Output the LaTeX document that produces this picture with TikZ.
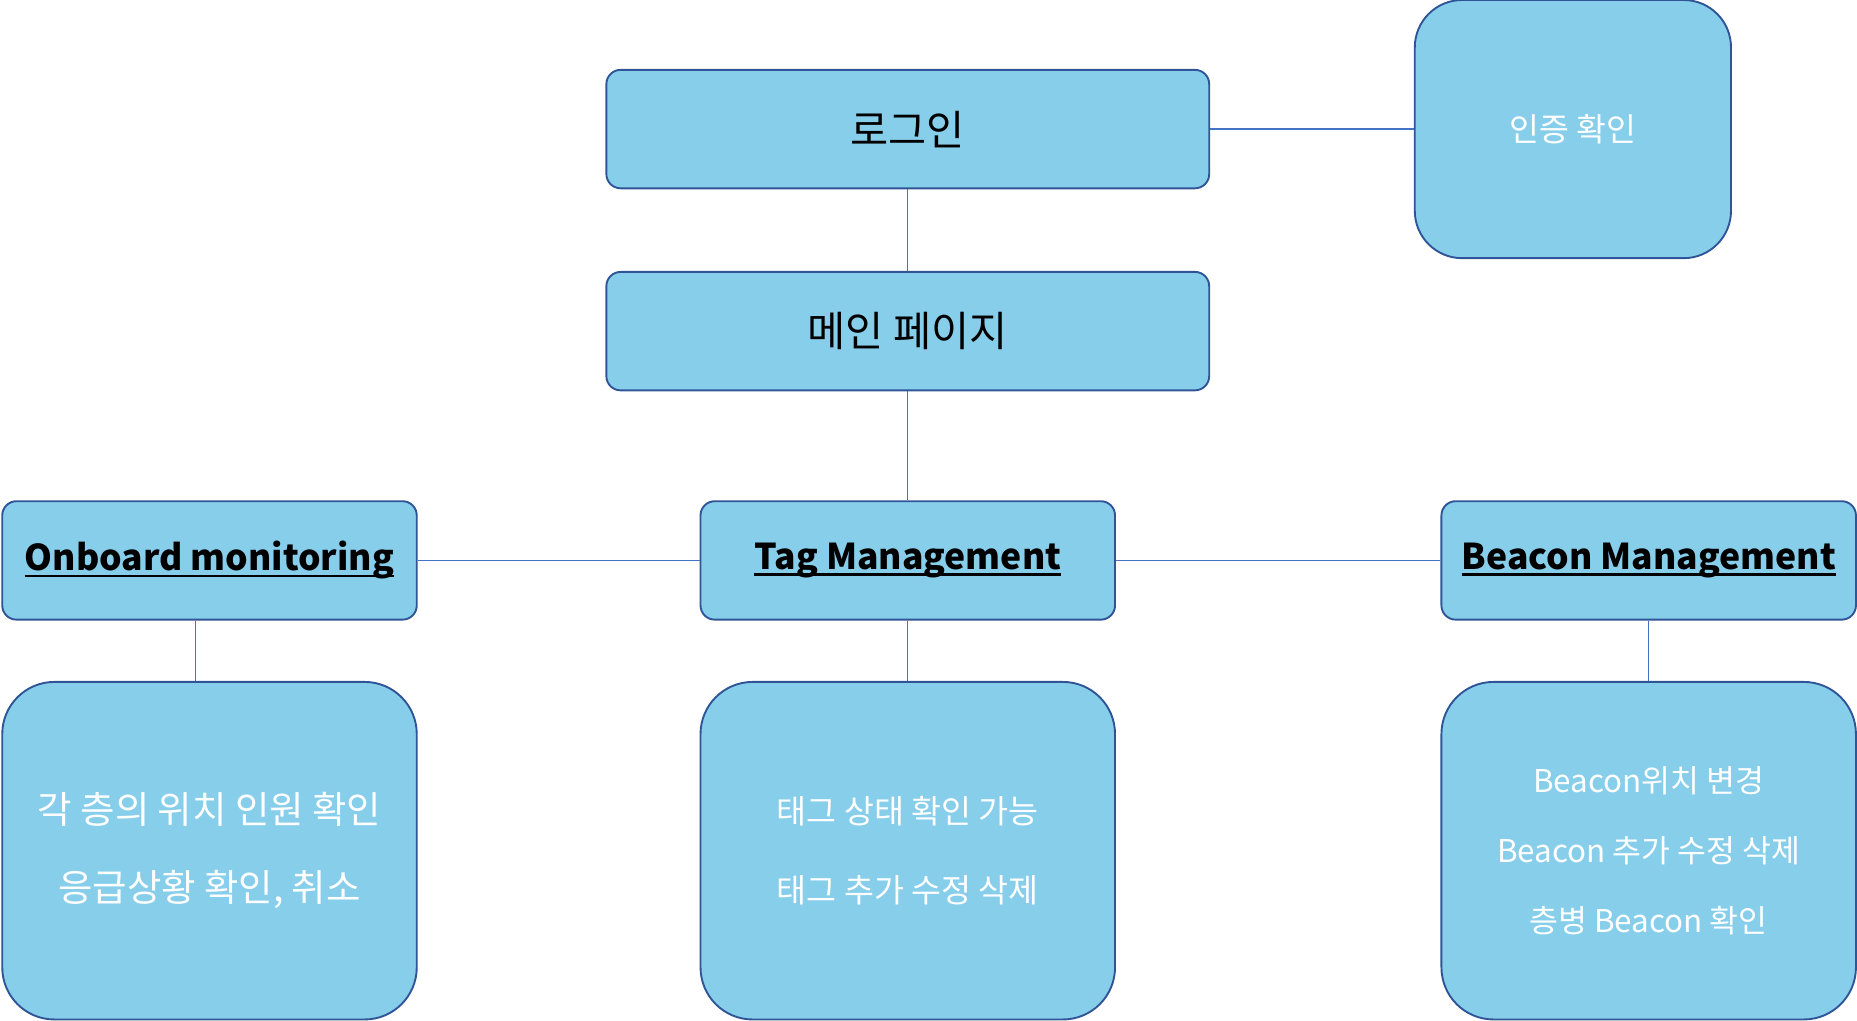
\documentclass[tikz,border=0pt]{standalone}
\usepackage{fontspec}
\setmainfont{Noto Sans CJK KR}
\usetikzlibrary{positioning}
\definecolor{boxfill}{RGB}{135,206,235}
\definecolor{boxline}{RGB}{47,85,151}
\definecolor{linkline}{RGB}{68,114,196}
\newcommand{\undertext}[1]{\setbox0\hbox{#1}\rlap{\rule[-2.6pt]{\wd0}{0.9pt}}\box0}
\tikzset{
chart/.style={
    x=0.5pt,
    y=-0.5pt,
    node distance=30pt
},
page/.style={
    draw=boxline,
    fill=boxfill,
    line width=0.8pt,
    rounded corners=6pt,
    inner sep=0pt,
    minimum width=254.5pt,
    minimum height=50pt,
    font=\fontsize{17.5}{20}\selectfont
},
menu/.style={
    page,
    minimum width=175pt,
    font=\bfseries\fontsize{15}{18}\selectfont
},
detail/.style={
    page,
    rounded corners=22pt,
    minimum width=175pt,
    minimum height=142.5pt,
    text=white,
    align=center,
    font=\fontsize{13.75}{33}\selectfont
},
link/.style={
    draw=linkline,
    line width=0.5pt
}}

\begin{document}
\begin{tikzpicture}[chart]
\useasboundingbox (0,0) rectangle (1568,862);

\node[page]    (login)                        at (766.5,109) {로그인};
\node[detail]  (auth)  [right=86pt of login, minimum width=133.5pt, minimum height=109pt, rounded corners=20pt, font=\fontsize{13.7}{16}\selectfont] {인증 확인};
\node[page]    (main)  [below=34.5pt of login]  {메인 페이지};

\node[menu]    (tag)   [below=46pt of main]     {\undertext{Tag Management}};
\node[menu]    (ob)    [left=119pt of tag]      {\undertext{Onboard monitoring}};
\node[menu]    (bea)   [right=137pt of tag]     {\undertext{Beacon Management}};

\node[detail]  (obd)   [below=25.5pt of ob, font=\fontsize{15.8}{33}\selectfont]
    {각 층의 위치 인원 확인\\응급상황 확인, 취소};
\node[detail]  (tagd)  [below=25.5pt of tag]
    {태그 상태 확인 가능\\태그 추가 수정 삭제};
\node[detail]  (bead)  [below=25.5pt of bea, font=\fontsize{13.25}{29.5}\selectfont]
    {Beacon위치 변경\\Beacon 추가 수정 삭제\\층병 Beacon 확인};

\path[link]  (login.east)  --  (login.east -| auth.west);
\path[link]  (login)       --  (main);
\path[link]  (main)        --  (tag);
\path[link]  (ob)          --  (tag);
\path[link]  (tag)         --  (bea);
\path[link]  (tag)         --  (tagd);
\path[link]  (bea)         --  (bead);
\path[link]  ([xshift=-6pt]ob.south)  --  ([xshift=-6pt]ob.south |- obd.north);
\end{tikzpicture}
\end{document}
